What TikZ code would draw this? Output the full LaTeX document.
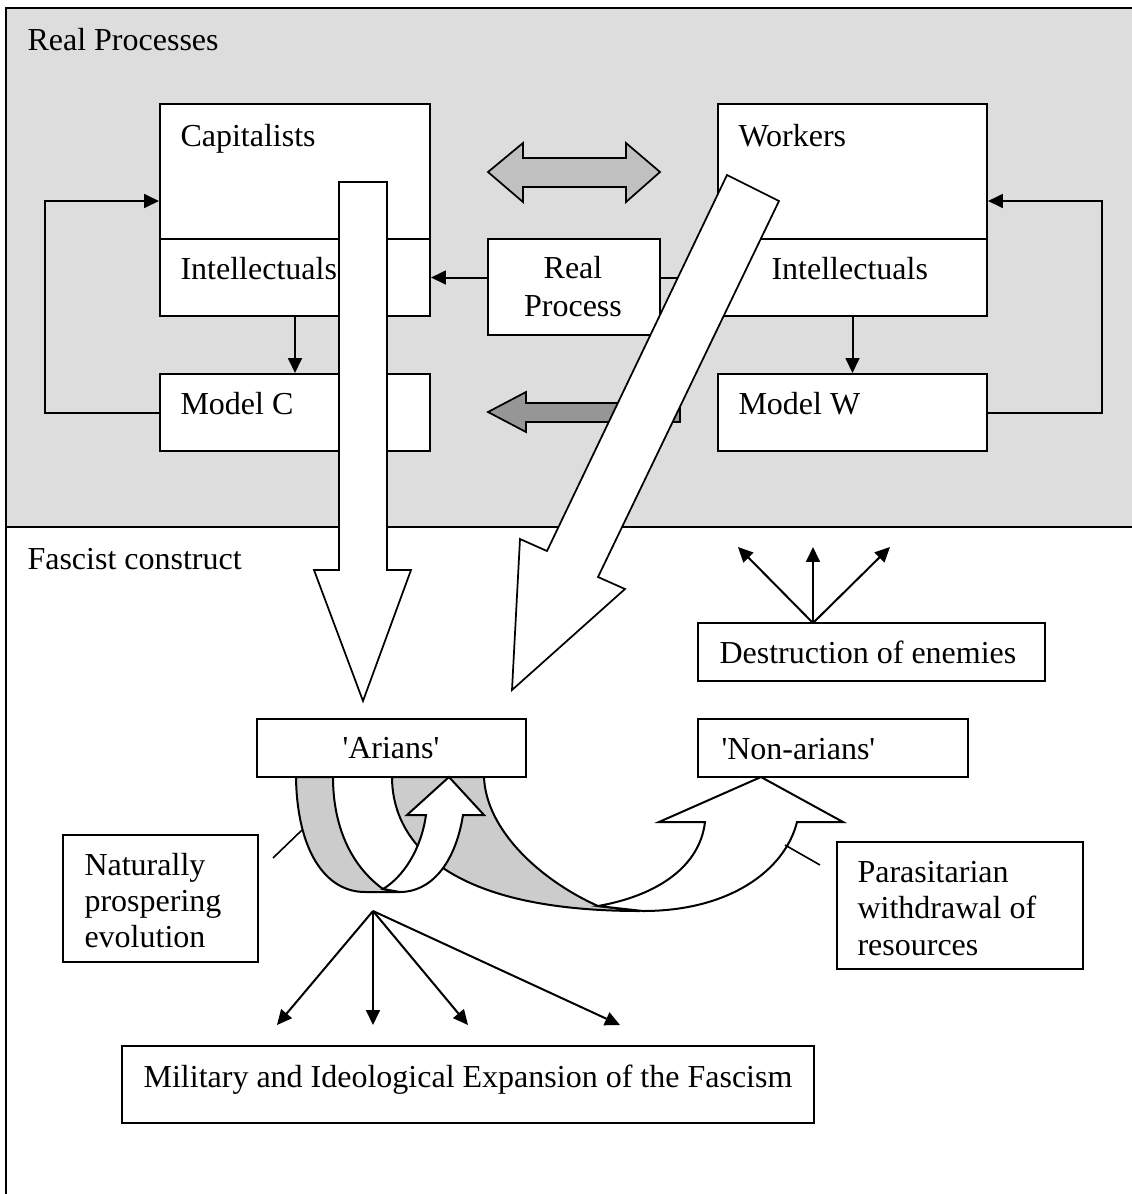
\documentclass[tikz,border=0pt]{standalone}
\usepackage{fontspec}
\setmainfont{Liberation Serif}
\usetikzlibrary{fit,arrows.meta}
\definecolor{bandgrey}{RGB}{221,221,221}
\definecolor{dblgrey}{RGB}{192,192,192}
\definecolor{darkgrey}{RGB}{150,150,150}
\definecolor{ribgrey}{RGB}{204,204,204}
\begin{document}
\begin{tikzpicture}[x=0.375pt,y=-0.375pt,
  box/.style={draw, fill=white, line width=0.75pt, inner sep=0pt},
  txt/.style={anchor=base west, inner sep=0pt, font=\fontsize{12}{13.8}\selectfont},
  ctxt/.style={anchor=base, inner sep=0pt, font=\fontsize{12}{13.8}\selectfont},
  conn/.style={line width=0.75pt, -{Triangle[length=5.6pt,width=5.2pt]}},
  blockarrow/.style={draw, line width=0.65pt, line join=miter},
  ribbon/.style={draw, line width=0.75pt, line join=miter},
  leader/.style={line width=0.6pt},
  frameline/.style={line width=0.75pt}]
\useasboundingbox (0,0) rectangle (1132,1194);
\clip (0,0) rectangle (1132,1194);
% frame and band
\fill[bandgrey] (6,8) rectangle (1140,527);
\draw[frameline] (1140,8) -- (6,8) -- (6,1200);
\draw[frameline] (6,527) -- (1140,527);
\node[txt] (rptitle) at (27,50) {Real Processes};
\node[txt] (fctitle) at (27,569) {Fascist construct};
% upper boxes
\node[box, fit={(160,104) (430,239)}] (cap) {};
\node[box, fit={(160,239) (430,316)}] (capI) {};
\node[box, fit={(160,374) (430,451)}] (modC) {};
\node[box, fit={(718,104) (987,239)}] (work) {};
\node[box, fit={(718,239) (987,316)}] (workI) {};
\node[box, fit={(718,374) (987,451)}] (modW) {};
\node[box, fit={(488,239) (660,335)}] (rp) {};
\node[txt] (capT) at (180,146) {Capitalists};
\node[txt] (capIT) at (180,279) {Intellectuals};
\node[txt] (modCT) at (180,414) {Model C};
\node[txt] (workT) at (738,146) {Workers};
\node[txt] (workIT) at (771,279) {Intellectuals};
\node[txt] (modWT) at (738,414) {Model W};
\node[ctxt] (rpT1) at (573,278) {Real};
\node[ctxt] (rpT2) at (573,316) {Process};
% connectors
\draw[conn] (rp.west |- capI.east) -- (capI.east);
\draw[conn] (rp.east |- workI.west) -- (workI.west);
\draw[conn] (capI.south) -- (modC.north);
\draw[conn] (workI.south) -- (modW.north);
\coordinate (lc) at (45,201);
\draw[conn] (modC.west) -| (lc) -- (lc -| cap.west);
\coordinate (rc) at (1102,201);
\draw[conn] (modW.east) -| (rc) -- (rc -| work.east);
% block arrows in the upper band
\filldraw[blockarrow, fill=dblgrey] (488,172) -- (523,143) -- (523,158) -- (626,158) -- (626,143) -- (660,172) -- (626,202) -- (626,187) -- (523,187) -- (523,202) -- cycle;
\filldraw[blockarrow, fill=darkgrey] (488,412) -- (526,392) -- (526,403) -- (680,403) -- (680,422) -- (526,422) -- (526,432) -- cycle;
\filldraw[blockarrow, fill=white] (339,182) -- (387,182) -- (387,570) -- (411,570) -- (363,701) -- (314,570) -- (339,570) -- cycle;
\filldraw[blockarrow, fill=white] (727,175) -- (779,201) -- (598,577) -- (625,589) -- (512,690) -- (520,539) -- (547,551) -- cycle;
% destruction of enemies
\node[box, fit={(698,623) (1045,681)}] (des) {};
\node[txt] (desT) at (719,663) {Destruction of enemies};
\coordinate (dsrc) at (813,623);
\coordinate (d1) at (738,547);
\coordinate (d2) at (813,547);
\coordinate (d3) at (890,547);
\draw[conn] (dsrc) -- (d1);
\draw[conn] (dsrc) -- (d2);
\draw[conn] (dsrc) -- (d3);
% arians / non-arians
\node[box, fit={(257,719) (526,777)}] (ari) {};
\node[ctxt] (ariT) at (391,758) {\textquotesingle Arians\textquotesingle};
\node[box, fit={(698,719) (968,777)}] (nar) {};
\node[txt] (narT) at (721,759) {\textquotesingle Non-arians\textquotesingle};
% ribbons
\filldraw[ribbon, fill=ribgrey] (392,777) .. controls (392,830) and (430,911) .. (640,911) -- (598,906) .. controls (540,880) and (486,830) .. (484,777) -- cycle;
\filldraw[ribbon, fill=ribgrey] (296,777) .. controls (297,850) and (325,892) .. (365,892) -- (400,892) -- (383,889) .. controls (350,865) and (333,825) .. (333,777) -- cycle;
\filldraw[ribbon, fill=white] (383,889) .. controls (403,877) and (421,850) .. (426,815) -- (407,815) -- (449,777) -- (484,815) -- (463,815) .. controls (455,865) and (430,892) .. (400,892) -- cycle;
\filldraw[ribbon, fill=white] (598,906) .. controls (660,895) and (700,865) .. (705,822) -- (659,822) -- (761,777) -- (843,822) -- (797,822) .. controls (785,870) and (730,911) .. (643,911) -- cycle;
% side boxes
\node[box, fit={(63,835) (258,962)}] (nat) {};
\node[txt] (natT1) at (84,875) {Naturally};
\node[txt] (natT2) at (84,911) {prospering};
\node[txt] (natT3) at (84,947) {evolution};
\node[box, fit={(837,842) (1083,969)}] (par) {};
\node[txt] (parT1) at (857,882) {Parasitarian};
\node[txt] (parT2) at (857,918) {withdrawal of};
\node[txt] (parT3) at (857,955) {resources};
\coordinate (natL) at (302,830);
\draw[leader] (natL) -- (273,858);
\coordinate (parL) at (785,845);
\draw[leader] (parL) -- (820,865);
% expansion fan
\coordinate (fsrc) at (373,911);
\coordinate (m1) at (277,1025);
\coordinate (m2) at (373,1025);
\coordinate (m3) at (468,1025);
\coordinate (m4) at (620,1025);
\draw[conn] (fsrc) -- (m1);
\draw[conn] (fsrc) -- (m2);
\draw[conn] (fsrc) -- (m3);
\draw[conn] (fsrc) -- (m4);
\node[box, fit={(122,1046) (814,1123)}] (mil) {};
\node[ctxt] (milT) at (468,1087) {Military and Ideological Expansion of the Fascism};
\end{tikzpicture}
\end{document}
